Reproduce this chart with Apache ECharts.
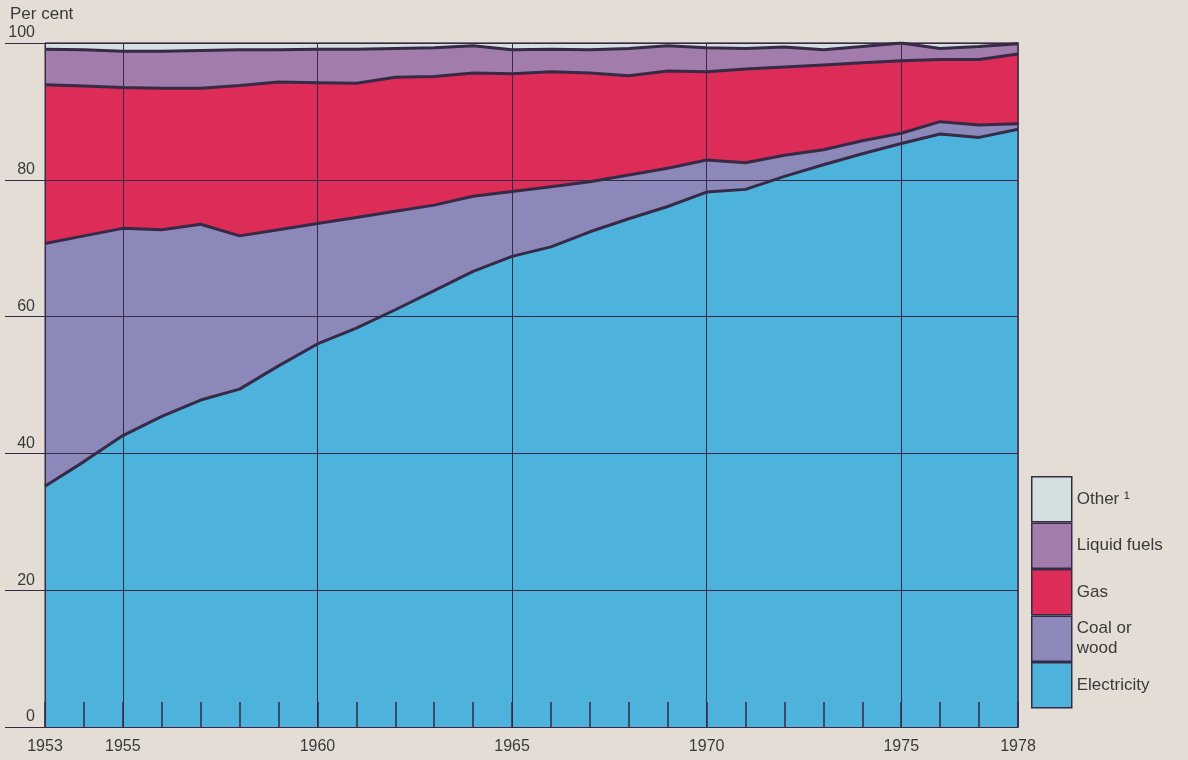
<html lang="en">
<head>
    <meta charset="UTF-8">
    <title>Household energy by fuel</title>
    <style>
        body { margin: 0; background: #e3ddd6; }
    </style>
</head>
<body>
    <div id="container" style="width:1188px;height:760px"></div>

    <script src="https://cdn.jsdelivr.net/npm/echarts@6/dist/echarts.min.js"></script>
    <script>
        var years = ['1953','1954','1955','1956','1957','1958','1959','1960','1961','1962','1963','1964','1965',
                     '1966','1967','1968','1969','1970','1971','1972','1973','1974','1975','1976','1977','1978'];
        var labelYears = ['1953','1955','1960','1965','1970','1975','1978'];
        var gridYears = ['1955','1960','1965','1970','1975'];

        // per cent shares
        var electricity = [35.2,38.8,42.6,45.4,47.8,49.4,52.8,56.0,58.3,61.0,63.8,66.6,68.8,
                           70.2,72.4,74.3,76.1,78.2,78.6,80.5,82.2,83.8,85.3,86.7,86.2,87.4];
        var coalWood = [35.5,33.0,30.3,27.3,25.7,22.4,19.9,17.6,16.2,14.4,12.5,11.0,9.5,
                        8.8,7.3,6.4,5.6,4.7,3.9,3.1,2.2,1.9,1.5,1.8,1.8,0.8];
        var gas = [23.2,21.9,20.6,20.7,19.9,22.0,21.6,20.6,19.6,19.6,18.8,18.0,17.2,
                   16.8,15.9,14.5,14.2,12.9,13.7,12.9,12.4,11.4,10.6,9.1,9.6,10.2];
        var liquidFuels = [5.2,5.3,5.3,5.4,5.5,5.2,4.7,4.9,5.0,4.2,4.2,4.0,3.5,
                           3.3,3.4,4.0,3.7,3.5,3.0,2.9,2.2,2.4,2.6,1.6,1.9,1.5];
        var other = [0.9,1.0,1.2,1.2,1.1,1.0,1.0,0.9,0.9,0.8,0.7,0.4,1.0,
                     0.9,1.0,0.8,0.4,0.7,0.8,0.6,1.0,0.5,0.0,0.8,0.5,0.1];

        var names = ['Electricity','Coal or\nwood','Gas','Liquid fuels','Other ¹'];
        var values = [electricity, coalWood, gas, liquidFuels, other];
        var fills = ['#4db3dc','#8c88ba','#dd2c57','#a27cab','#d4dfdf'];
        var ink = '#362a46';
        var textColor = '#3a3a3a';

        var myChart = echarts.init(document.getElementById('container'));

        var series = [];
        names.forEach(function(name, i){
            series.push({
                name: name,
                type: 'line',
                stack: 'total',
                data: values[i],
                showSymbol: false,
                symbol: 'none',
                itemStyle: { color: fills[i] },
                areaStyle: { color: fills[i], opacity: 1 },
                lineStyle: { color: ink, width: i === 4 ? 1 : 3 },
                z: 2
            });
        });

        var option = {
            backgroundColor: '#e3ddd6',
            animation: false,
            textStyle: { fontFamily: 'Liberation Sans', color: textColor },
            title: {
                text: 'Per cent',
                left: 5,
                top: 1,
                textStyle: { fontFamily: 'Liberation Sans', fontSize: 17, fontWeight: 'normal', color: textColor }
            },
            grid: {
                left: 45, right: 170, top: 43, bottom: 33,
                show: true,
                borderColor: ink,
                borderWidth: 1,
                backgroundColor: 'transparent'
            },
            legend: {
                data: names.slice().reverse(),
                orient: 'vertical',
                left: 1031,
                top: 476,
                itemWidth: 40,
                itemHeight: 45,
                itemGap: 0,
                padding: 0,
                icon: 'rect',
                selectedMode: false,
                itemStyle: { borderColor: ink, borderWidth: 1.5 },
                textStyle: { fontSize: 17, color: textColor, lineHeight: 20 }
            },
            xAxis: {
                type: 'category',
                data: years,
                boundaryGap: false,
                axisLine: { lineStyle: { color: ink, width: 1 } },
                axisTick: {
                    inside: true,
                    length: 25,
                    interval: 0,
                    lineStyle: { color: ink, width: 1.5 }
                },
                axisLabel: {
                    interval: function(idx, val){ return labelYears.indexOf(val) >= 0; },
                    fontSize: 16,
                    color: textColor,
                    margin: 12
                },
                splitLine: {
                    show: true,
                    interval: function(idx, val){ return gridYears.indexOf(val) >= 0; },
                    lineStyle: { color: ink, width: 1 }
                },
                z: 5
            },
            yAxis: [{
                type: 'value',
                min: 0,
                max: 100,
                interval: 20,
                axisLine: { show: true, lineStyle: { color: ink, width: 1 } },
                axisTick: { show: true, length: 40, lineStyle: { color: ink, width: 1 } },
                axisLabel: {
                    fontSize: 16,
                    color: textColor,
                    margin: 10,
                    align: 'right',
                    verticalAlign: 'bottom',
                    padding: [0,0,2,0]
                },
                splitLine: { show: true, lineStyle: { color: ink, width: 1 } },
                z: 5
            }, {
                type: 'value',
                position: 'right',
                min: 0,
                max: 100,
                interval: 20,
                axisLine: { show: true, lineStyle: { color: ink, width: 1.5 } },
                axisTick: { show: false },
                axisLabel: { show: false },
                splitLine: { show: false },
                z: 5
            }],
            series: series
        };
        myChart.setOption(option);
    </script>
</body>
</html>
